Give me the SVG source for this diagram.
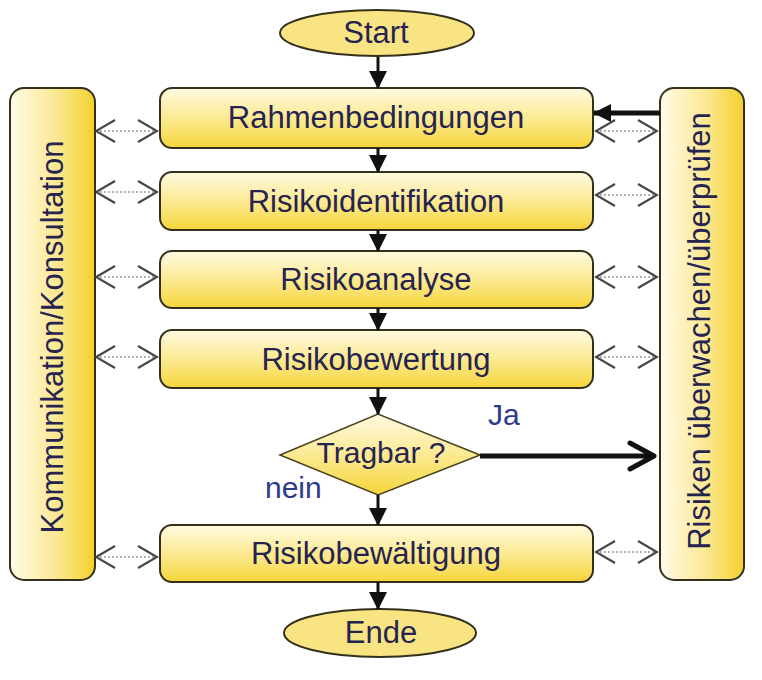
<svg xmlns="http://www.w3.org/2000/svg" width="762" height="680" viewBox="0 0 762 680">
  <defs>
    <linearGradient id="fillV" x1="0" y1="0" x2="0" y2="1">
      <stop offset="0" stop-color="#fffae2"/>
      <stop offset="0.55" stop-color="#fbe88a"/>
      <stop offset="1" stop-color="#f5d53a"/>
    </linearGradient>
    <linearGradient id="fillH" x1="0" y1="0" x2="1" y2="0">
      <stop offset="0" stop-color="#fffbea"/>
      <stop offset="0.55" stop-color="#fbe892"/>
      <stop offset="1" stop-color="#f4d02c"/>
    </linearGradient>
    <!-- filled head for the main flow -->
    <marker id="solidHead" markerUnits="userSpaceOnUse" viewBox="0 0 18 18" refX="17" refY="9" markerWidth="18" markerHeight="18" orient="auto">
      <path d="M0,0 L18,9 L0,18 Z" fill="#111"/>
    </marker>
    <!-- open chevron for the "Ja" branch -->
    <marker id="openHead" markerUnits="userSpaceOnUse" viewBox="0 0 30 32" refX="27" refY="16" markerWidth="30" markerHeight="32" orient="auto">
      <path d="M3,3 L27,16 L3,29" fill="none" stroke="#111" stroke-width="5" stroke-linecap="round" stroke-linejoin="round"/>
    </marker>
    <!-- grey chevrons for the dotted two-way links -->
    <marker id="chevron" markerUnits="userSpaceOnUse" viewBox="0 0 22 26" refX="20" refY="13" markerWidth="22" markerHeight="26" orient="auto-start-reverse">
      <path d="M1,2 L20,13 L1,24" fill="none" stroke="#474747" stroke-width="2.2"/>
    </marker>
  </defs>
  <style>
    .box { fill: url(#fillV); stroke: #35301c; stroke-width: 2; }
    .side { fill: url(#fillH); stroke: #35301c; stroke-width: 2; }
    .label { font-family: "Liberation Sans", Arial, sans-serif; font-size: 31px; fill: #262350; text-anchor: middle; }
    .tag { font-family: "Liberation Sans", Arial, sans-serif; font-size: 30px; fill: #2e3a8a; }
    .flow { stroke: #111; stroke-width: 3; fill: none; marker-end: url(#solidHead); }
    .link { stroke: #9a9a9a; stroke-width: 1.6; stroke-dasharray: 2 2; fill: none; marker-start: url(#chevron); marker-end: url(#chevron); }
  </style>

  <rect width="762" height="680" fill="#ffffff"/>

  <!-- side columns -->
  <g id="kommunikation">
    <rect class="side" x="10" y="88" width="85" height="492" rx="14"/>
    <text class="label" transform="translate(63,337) rotate(-90)">Kommunikation/Konsultation</text>
  </g>
  <g id="ueberwachen">
    <rect class="side" x="660" y="88" width="84" height="492" rx="14"/>
    <text class="label" transform="translate(710,331) rotate(-90)">Risiken überwachen/überprüfen</text>
  </g>

  <!-- main flow -->
  <g id="start">
    <ellipse cx="377" cy="33" rx="97" ry="23" fill="#f9e483" stroke="#35301c" stroke-width="2"/>
    <text class="label" x="376" y="43">Start</text>
  </g>
  <g id="rahmen">
    <rect class="box" x="160" y="88" width="433" height="60" rx="12"/>
    <text class="label" x="376" y="128">Rahmenbedingungen</text>
  </g>
  <g id="identifikation">
    <rect class="box" x="160" y="172" width="433" height="58" rx="12"/>
    <text class="label" x="376" y="212">Risikoidentifikation</text>
  </g>
  <g id="analyse">
    <rect class="box" x="160" y="251" width="433" height="57" rx="12"/>
    <text class="label" x="376" y="290">Risikoanalyse</text>
  </g>
  <g id="bewertung">
    <rect class="box" x="160" y="330" width="433" height="58" rx="12"/>
    <text class="label" x="376" y="370">Risikobewertung</text>
  </g>
  <g id="tragbar">
    <polygon points="280,455 378,414 480,455 378,495" fill="url(#fillV)" stroke="#4a4420" stroke-width="1.6"/>
    <text class="label" x="381" y="463" style="font-size:30px">Tragbar ?</text>
  </g>
  <g id="bewaeltigung">
    <rect class="box" x="160" y="525" width="433" height="57" rx="12"/>
    <text class="label" x="376" y="564">Risikobewältigung</text>
  </g>
  <g id="ende">
    <ellipse cx="380" cy="633" rx="96" ry="24" fill="#f9e483" stroke="#35301c" stroke-width="2"/>
    <text class="label" x="381" y="643">Ende</text>
  </g>

  <g id="connectors">
    <!-- vertical flow -->
    <line class="flow" x1="378" y1="57" x2="378" y2="88"/>
    <line class="flow" x1="378" y1="148" x2="378" y2="172"/>
    <line class="flow" x1="378" y1="230" x2="378" y2="251"/>
    <line class="flow" x1="378" y1="308" x2="378" y2="330"/>
    <line class="flow" x1="378" y1="388" x2="378" y2="414"/>
    <line class="flow" x1="378" y1="495" x2="378" y2="525"/>
    <line class="flow" x1="378" y1="582" x2="378" y2="609"/>
    <!-- feedback from monitoring into the context step -->
    <line x1="660" y1="113" x2="594" y2="113" stroke="#111" stroke-width="5" marker-end="url(#solidHead)"/>
    <!-- "Ja" branch -->
    <line x1="480" y1="456" x2="654" y2="456" stroke="#111" stroke-width="5" marker-end="url(#openHead)"/>
    <text class="tag" x="488" y="425">Ja</text>
    <text class="tag" x="265" y="498">nein</text>

    <!-- two-way links, left column -->
    <line class="link" x1="96" y1="131" x2="157" y2="131"/>
    <line class="link" x1="96" y1="192" x2="157" y2="192"/>
    <line class="link" x1="96" y1="277" x2="157" y2="277"/>
    <line class="link" x1="96" y1="357" x2="157" y2="357"/>
    <line class="link" x1="96" y1="557" x2="157" y2="557"/>
    <!-- two-way links, right column -->
    <line class="link" x1="596" y1="131" x2="657" y2="131"/>
    <line class="link" x1="596" y1="195" x2="657" y2="195"/>
    <line class="link" x1="596" y1="277" x2="657" y2="277"/>
    <line class="link" x1="596" y1="357" x2="657" y2="357"/>
    <line class="link" x1="596" y1="552" x2="657" y2="552"/>
  </g>
</svg>
